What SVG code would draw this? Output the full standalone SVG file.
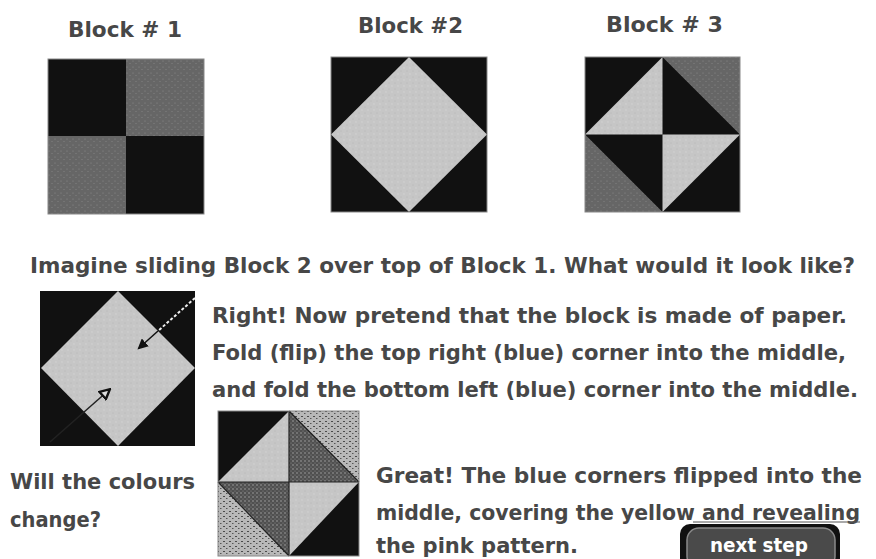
<svg xmlns="http://www.w3.org/2000/svg" width="876" height="559" viewBox="0 0 876 559">
<style>
.t{font-family:"DejaVu Sans","Liberation Sans",sans-serif;font-weight:bold;fill:#474747;font-size:21px}
.h{font-size:21px}
.blk{fill:#111}
.edge{fill:none;stroke:#888;stroke-width:1}
.btn{font-family:"DejaVu Sans","Liberation Sans",sans-serif;font-weight:bold;fill:#fff;font-size:19px}
</style>
<defs>
<pattern id="gray" width="6" height="6" patternUnits="userSpaceOnUse">
<rect width="6" height="6" fill="#666"/>
<circle cx="1" cy="1" r="0.6" fill="#8a8a8a"/><circle cx="4" cy="3.5" r="0.6" fill="#858585"/>
</pattern>
<pattern id="light" width="6" height="6" patternUnits="userSpaceOnUse">
<rect width="6" height="6" fill="#c6c6c6"/>
<circle cx="2" cy="2" r="0.7" fill="#d6d6d6"/><circle cx="5" cy="5" r="0.6" fill="#b4b4b4"/>
</pattern>
<pattern id="dk" width="4" height="4" patternUnits="userSpaceOnUse">
<rect width="4" height="4" fill="#505050"/>
<circle cx="1" cy="1" r="0.8" fill="#a0a0a0"/><circle cx="3" cy="3" r="0.6" fill="#8a8a8a"/>
</pattern>
<pattern id="pk" width="6" height="5" patternUnits="userSpaceOnUse">
<rect width="6" height="5" fill="#b8b8b8"/>
<rect x="1" y="1" width="2" height="1" fill="#4a4a4a"/><rect x="4" y="3" width="1.5" height="1" fill="#555"/>
</pattern>
<marker id="ah" viewBox="0 0 10 10" refX="8" refY="5" markerWidth="7" markerHeight="7" orient="auto">
<path d="M0,0 L10,5 L0,10 z" fill="#111"/>
</marker>
<marker id="ah2" viewBox="0 0 10 10" refX="8" refY="5" markerWidth="8" markerHeight="8" orient="auto">
<path d="M1,1 L9,5 L1,9 z" fill="#ddd" stroke="#111" stroke-width="2"/>
</marker>
</defs>
<rect width="876" height="559" fill="#fff"/>

<g id="block1">
<text class="t h" x="68" y="37" textLength="114" lengthAdjust="spacingAndGlyphs">Block # 1</text>
<rect x="48" y="59" width="156" height="155" class="blk"/>
<rect x="126" y="59" width="78" height="77" fill="url(#gray)"/>
<rect x="48" y="136" width="78" height="78" fill="url(#gray)"/>
<rect x="48" y="59" width="156" height="155" class="edge"/>
</g>

<g id="block2">
<text class="t h" x="358" y="33" textLength="105" lengthAdjust="spacingAndGlyphs">Block #2</text>
<rect x="331" y="57" width="156" height="155" class="blk"/>
<polygon points="409,57 487,134.5 409,212 331,134.5" fill="url(#light)"/>
<rect x="331" y="57" width="156" height="155" class="edge"/>
</g>

<g id="block3">
<text class="t h" x="606" y="32" textLength="117" lengthAdjust="spacingAndGlyphs">Block # 3</text>
<rect x="585" y="57" width="155" height="155" class="blk"/>
<polygon points="585,134.5 662.5,57 662.5,134.5" fill="url(#light)"/>
<polygon points="662.5,57 740,57 740,134.5" fill="url(#gray)"/>
<polygon points="585,134.5 662.5,212 585,212" fill="url(#gray)"/>
<polygon points="662.5,134.5 740,134.5 662.5,212" fill="url(#light)"/>
<rect x="585" y="57" width="155" height="155" class="edge"/>
</g>

<g id="question">
<text class="t" x="30" y="273" textLength="825" lengthAdjust="spacingAndGlyphs">Imagine sliding Block 2 over top of Block 1.  What would it look like?</text>
</g>

<g id="overlay">
<rect x="40" y="291" width="155" height="155" class="blk"/>
<polygon points="118,291 195,368 118,446 41,368" fill="url(#light)"/>
</g>

<g id="instructions">
<text class="t" x="212" y="323" textLength="635" lengthAdjust="spacingAndGlyphs">Right!  Now pretend that the block is made of paper.</text>
<text class="t" x="212" y="360" textLength="634" lengthAdjust="spacingAndGlyphs">Fold (flip) the top right (blue) corner into the middle,</text>
<text class="t" x="212" y="397" textLength="646" lengthAdjust="spacingAndGlyphs">and fold the bottom left (blue) corner into the middle.</text>
</g>

<g id="colours-question">
<text class="t" x="10" y="489" textLength="185" lengthAdjust="spacingAndGlyphs">Will the colours</text>
<text class="t" x="10" y="527" textLength="91" lengthAdjust="spacingAndGlyphs">change?</text>
</g>

<g id="folded">
<rect x="218" y="411" width="141" height="145" class="blk"/>
<polygon points="218,482 289,411 289,482" fill="url(#light)"/>
<polygon points="289,411 359,411 359,482" fill="url(#pk)"/>
<polygon points="289,411 359,482 289,482" fill="url(#dk)"/>
<polygon points="218,482 289,482 289,556" fill="url(#dk)"/>
<polygon points="218,482 289,556 218,556" fill="url(#pk)"/>
<polygon points="289,482 359,482 289,556" fill="url(#light)"/>
<path d="M289,411 V556 M218,482 H359 M289,411 L359,482 M218,482 L289,556" stroke="#222" stroke-width="1.2" fill="none"/>
<rect x="218" y="411" width="141" height="145" class="edge"/>
</g>

<g id="result">
<text class="t" x="376" y="483" textLength="486" lengthAdjust="spacingAndGlyphs">Great!  The blue corners flipped into the</text>
<text class="t" x="376" y="520" textLength="484" lengthAdjust="spacingAndGlyphs">middle, covering the yellow and revealing</text>
<text class="t" x="376" y="553" textLength="202" lengthAdjust="spacingAndGlyphs">the pink pattern.</text>
<line x1="693" y1="522" x2="860" y2="522" stroke="#555" stroke-width="1"/>
</g>

<g id="next-step">
<rect x="680" y="524" width="160" height="50" rx="10" fill="#111"/>
<rect x="687" y="528" width="148" height="40" rx="12" fill="#4a4a4a" stroke="#8a8a8a" stroke-width="1.5"/>
<text class="btn" x="710" y="552" textLength="98" lengthAdjust="spacingAndGlyphs">next step</text>
</g>

<g id="connectors">
<line x1="195" y1="298" x2="158" y2="331" stroke="#eee" stroke-width="2" stroke-dasharray="3,2"/>
<line x1="158" y1="331" x2="139" y2="348" stroke="#111" stroke-width="1.5" marker-end="url(#ah)"/>
<line x1="50" y1="442" x2="109" y2="390" stroke="#222" stroke-width="1.5" marker-end="url(#ah2)"/>
</g>
</svg>
